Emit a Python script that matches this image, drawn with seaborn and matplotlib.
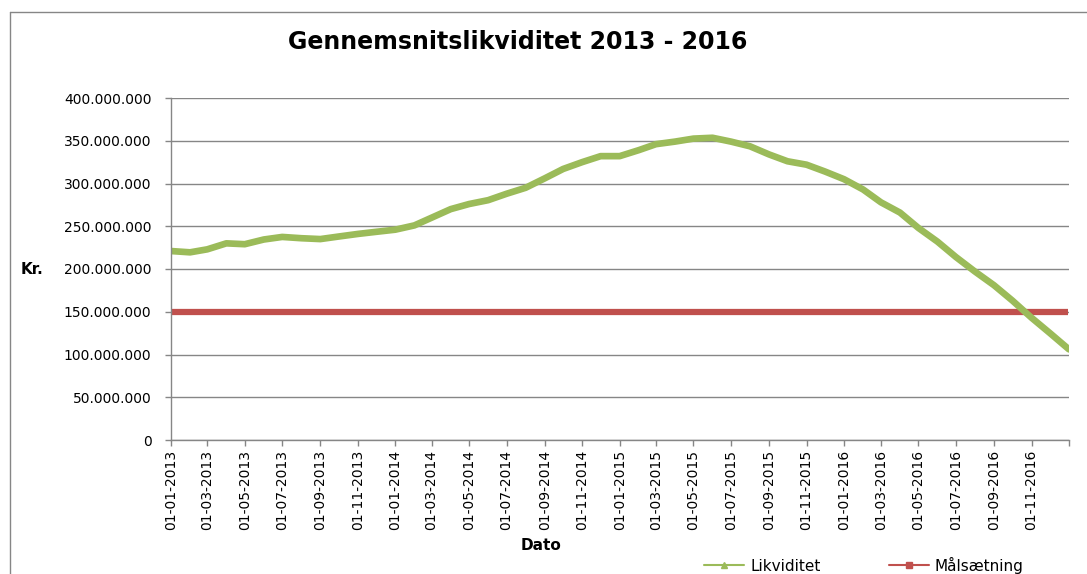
#!/usr/bin/env python3

import pandas as pd
import matplotlib
matplotlib.use('Agg')
import matplotlib.pyplot as plt
from matplotlib.lines import Line2D
from matplotlib.ticker import FuncFormatter
import seaborn as sns

# monthly readings (1st of each month), in million kr.
dates = pd.date_range('2013-01-01', '2017-01-01', freq='MS')
likviditet_mio = [221, 219.5, 223, 230, 229, 234.5, 237.5, 236, 235, 238,
                  241, 243.5, 246, 251, 260, 270, 276, 280.5, 288, 295,
                  306, 317, 325, 332, 332, 339, 346, 349, 352.5, 353.5,
                  349, 343.5, 334, 326, 322, 314, 305, 293, 278, 266,
                  248, 232, 214, 197, 181, 163, 143, 125, 106]
maal_mio = 150
series_names = ['Likviditet', 'Målsætning']

df = pd.DataFrame({'Dato': dates, 'Likviditet': [v * 1e6 for v in likviditet_mio]})
df_maal = pd.DataFrame({'Dato': [dates[0], pd.Timestamp('2016-12-31')],
                        'Målsætning': [maal_mio * 1e6] * 2})

green = '#9BBB59'
red = '#C0504D'
grey = '#868686'

sns.set_theme(style='white')
plt.rcParams['font.family'] = ['DejaVu Sans']
plt.rcParams['text.color'] = 'black'

fig = plt.figure(figsize=(10.87, 5.74), dpi=100)
ax = fig.add_axes([171/1087, 1 - 440/574, (1069 - 171)/1087, (440 - 98)/574])

sns.lineplot(data=df_maal, x='Dato', y='Målsætning', color=red, lw=4.5, ax=ax,
             solid_capstyle='butt')
sns.lineplot(data=df, x='Dato', y='Likviditet', color=green, lw=4.8, ax=ax)

ax.set_xlim(pd.Timestamp('2013-01-01'), pd.Timestamp('2017-01-01'))
ax.set_ylim(0, 400e6)
ax.set_yticks(range(0, 400_000_001, 50_000_000))
ax.yaxis.set_major_formatter(FuncFormatter(lambda v, p: f'{int(v):,}'.replace(',', '.')))

xt = list(pd.date_range('2013-01-01', '2016-11-01', freq='2MS')) + [pd.Timestamp('2017-01-01')]
ax.set_xticks(xt)
ax.set_xticklabels([d.strftime('%d-%m-%Y') for d in xt[:-1]] + [''], rotation=90)

ax.grid(axis='y', color=grey, lw=1)
ax.set_axisbelow(True)
for s in ['top', 'right']:
    ax.spines[s].set_visible(False)
for s in ['left', 'bottom']:
    ax.spines[s].set_color(grey)
    ax.spines[s].set_linewidth(1)
ax.tick_params(axis='both', which='major', direction='out', length=4, width=1,
               color=grey, labelsize=10, labelcolor='black', pad=3)
ax.tick_params(axis='x', bottom=True)
ax.tick_params(axis='y', left=True, pad=10)
ax.set_xlabel('')
ax.set_ylabel('')

fig.text(518/1087, 1 - 42/574, 'Gennemsnitslikviditet 2013 - 2016', ha='center', va='center',
         fontsize=17, fontweight='bold', color='black')
fig.text(32/1087, 1 - 269/574, 'Kr.', ha='center', va='center', fontsize=11,
         fontweight='bold', color='black')
fig.text(541/1087, 1 - 545/574, 'Dato', ha='center', va='center', fontsize=11,
         fontweight='bold', color='black')

handles = [Line2D([], [], color=green, lw=1.5, marker='^', markersize=5),
           Line2D([], [], color=red, lw=1.5, marker='s', markersize=5)]
leg = fig.legend(handles, series_names, loc='center', bbox_to_anchor=(864/1087, 1 - 565/574),
                 ncol=2, frameon=False, fontsize=11, handlelength=2.6, columnspacing=4.5,
                 handletextpad=0.4)
for t in leg.get_texts():
    t.set_color('black')

# outer chart-area border (cropped on right and bottom)
fig.add_artist(Line2D([10/1087, 1], [1 - 12/574, 1 - 12/574], transform=fig.transFigure,
                      color=grey, lw=1))
fig.add_artist(Line2D([10/1087, 10/1087], [0, 1 - 12/574], transform=fig.transFigure,
                      color=grey, lw=1))

plt.savefig('out.png', dpi=100)
plt.close()
